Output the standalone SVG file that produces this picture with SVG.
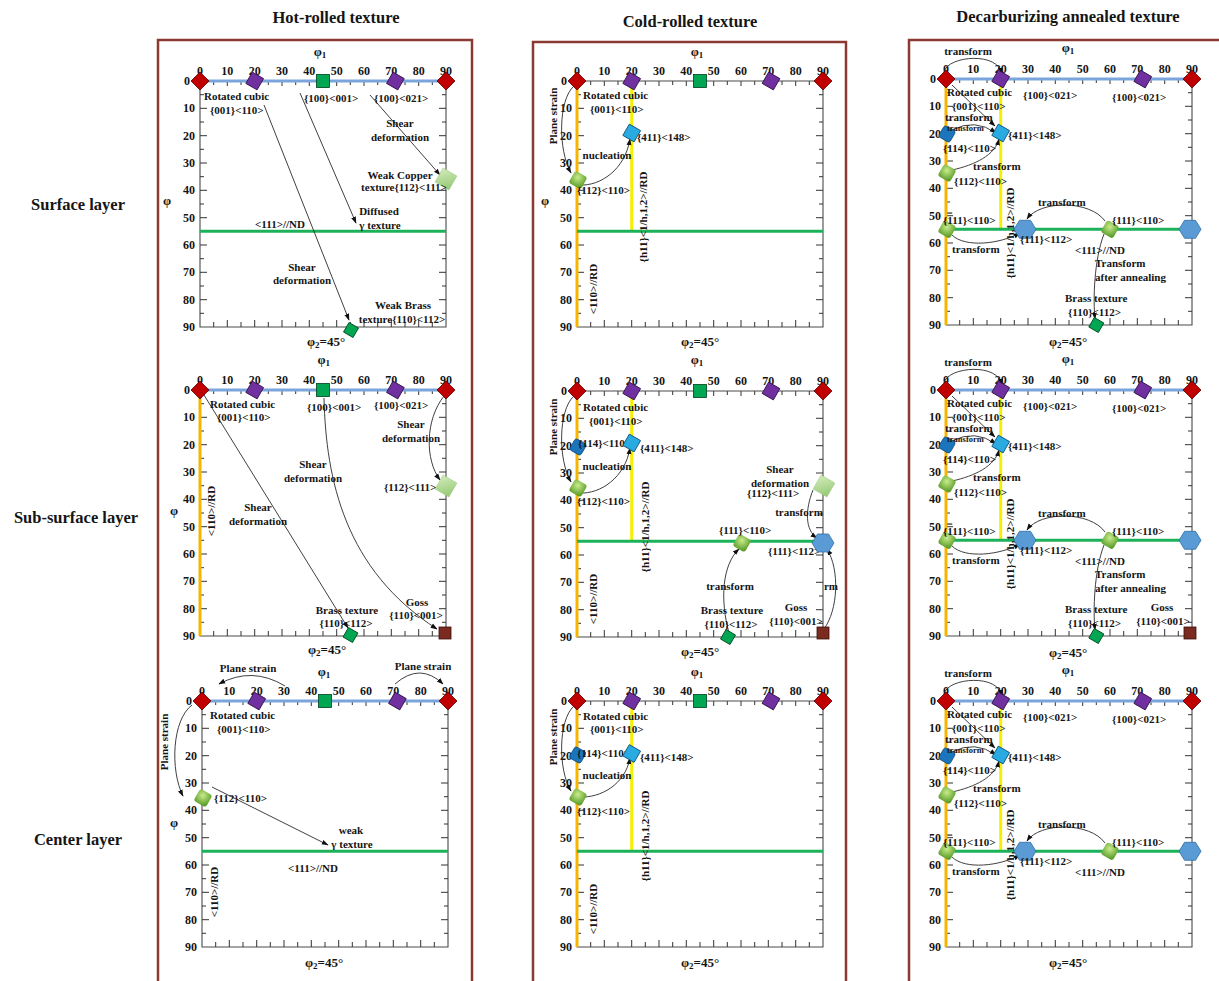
<svg xmlns="http://www.w3.org/2000/svg" xmlns:xlink="http://www.w3.org/1999/xlink" width="1219" height="981" viewBox="0 0 1219 981">
<style>
text{font-family:"Liberation Serif","Times New Roman",serif;font-weight:bold;fill:#151515;font-size:11px}
.h{font-size:16.5px}
.t text{font-size:12px}
.p text{font-size:13px}
.p tspan{font-size:9px}
.s{font-size:8.5px}
.tm{text-anchor:middle}
.te{text-anchor:end}
.ax{fill:none;stroke:#4a4a4a;stroke-width:1.1}
.tk{fill:none;stroke:#333;stroke-width:1}
.blue{stroke:#7aa5dc;stroke-width:3}
.org{stroke:#f7b500;stroke-width:3}
.yel{stroke:#f4f000;stroke-width:3}
.grn{stroke:#1db25a;stroke-width:3}
.c path{fill:none;stroke:#2a2a2a;stroke-width:.9;marker-end:url(#ah)}
.bd{fill:none;stroke:#8a3a32;stroke-width:2.5}
.ol{text-decoration:overline}
</style>
<defs>
<marker id="ah" viewBox="0 0 10 10" refX="9" refY="5" markerUnits="userSpaceOnUse" markerWidth="7" markerHeight="7" orient="auto"><path d="M0 1.5L10 5 0 8.5Z" fill="#111"/></marker>
<radialGradient id="gG" cx="40%" cy="35%" r="70%"><stop offset="0" stop-color="#c8ec8c"/><stop offset="1" stop-color="#5e9e2c"/></radialGradient>
<linearGradient id="gCu" x1="0" y1="0" x2="1" y2="1"><stop offset="0" stop-color="#d2ebba"/><stop offset="1" stop-color="#94c873"/></linearGradient>
<g id="frame">
<path class="ax" d="M0 0V246H246V0"/>
<path class="tk" d="M0 13.7h4M0 27.3h7M0 41h4M0 54.7h7M0 68.3h4M0 82h7M0 95.7h4M0 109.3h7M0 123h4M0 136.7h7M0 150.3h4M0 164h7M0 177.7h4M0 191.3h7M0 205h4M0 218.7h7M0 232.3h4M246 13.7h-4M246 27.3h-7M246 41h-4M246 54.7h-7M246 68.3h-4M246 82h-7M246 95.7h-4M246 109.3h-7M246 123h-4M246 136.7h-7M246 150.3h-4M246 164h-7M246 177.7h-4M246 191.3h-7M246 205h-4M246 218.7h-7M246 232.3h-4M13.7 246v-5M27.3 246v-7M41 246v-5M54.7 246v-7M68.3 246v-5M82 246v-7M95.7 246v-5M109.3 246v-7M123 246v-5M136.7 246v-7M150.3 246v-5M164 246v-7M177.7 246v-5M191.3 246v-7M205 246v-5M218.7 246v-7M232.3 246v-5M13.7 0v4M27.3 0v5M41 0v4M54.7 0v5M68.3 0v4M82 0v5M95.7 0v4M109.3 0v5M123 0v4M136.7 0v5M150.3 0v4M164 0v5M177.7 0v4M191.3 0v5M205 0v4M218.7 0v5M232.3 0v4"/>
</g>
<path id="mRed" d="M0-9L9 0 0 9-9 0Z" fill="#c00000" stroke="#5c0000" stroke-width=".8"/>
<rect id="mPur" x="-6.5" y="-6.5" width="13" height="13" transform="rotate(30)" fill="#7030a0" stroke="#2e0f45" stroke-width=".8"/>
<rect id="mGsq" x="-6.5" y="-6.5" width="13" height="13" fill="#00a651" stroke="#00401f" stroke-width=".8"/>
<rect id="mCu" x="-8" y="-8" width="16" height="16" transform="rotate(30)" fill="url(#gCu)" stroke="#9cc985" stroke-width=".5"/>
<rect id="mBrass" x="-5.5" y="-5.5" width="11" height="11" transform="rotate(30)" fill="#00a651" stroke="#00401f" stroke-width=".8"/>
<rect id="mGoss" x="-6" y="-6" width="12" height="12" fill="#7b2a1f" stroke="#3a0f08" stroke-width=".8"/>
<rect id="mG" x="-7" y="-7" width="14" height="14" rx="3" transform="rotate(30)" fill="url(#gG)"/>
<rect id="mB411" x="-6.5" y="-6.5" width="13" height="13" transform="rotate(30)" fill="#29abe2" stroke="#0b4f75" stroke-width=".8"/>
<rect id="mB114" x="-6.5" y="-6.5" width="13" height="13" rx="2.5" transform="rotate(30)" fill="#1b75bc" stroke="#0b3d66" stroke-width=".6"/>
<path id="mHex" d="M-11 0L-5.5-9H5.5L11 0 5.5 9H-5.5Z" fill="#5b9bd5" stroke="#2e6da4" stroke-width=".8"/>
</defs>
<rect width="1219" height="981" fill="#fff"/>
<g id="borders">
<rect class="bd" x="158" y="40" width="314" height="960"/>
<rect class="bd" x="533" y="42" width="313" height="960"/>
<rect class="bd" x="909" y="40" width="320" height="960"/>
</g>
<g id="headers" class="h tm">
<text class="h" x="336" y="22.5">Hot-rolled texture</text>
<text class="h" x="690" y="26.5">Cold-rolled texture</text>
<text class="h" x="1068" y="22">Decarburizing annealed texture</text>
<text class="h" x="78" y="209.5">Surface layer</text>
<text class="h" x="76" y="523">Sub-surface layer</text>
<text class="h" x="78" y="845">Center layer</text>
</g>

<!-- ===== axes ===== -->
<g id="axes-A1">
<use xlink:href="#frame" x="200" y="81"/>
<path class="blue" d="M200 81H446"/><path class="grn" d="M200 231.3H446"/>
<g class="t" transform="translate(200,81)"><g class="tm" transform="translate(0,-6)"><text>0</text><text x="27.3">10</text><text x="54.7">20</text><text x="82">30</text><text x="109.3">40</text><text x="136.7">50</text><text x="164">60</text><text x="191.3">70</text><text x="218.7">80</text><text x="246">90</text></g><g class="te" transform="translate(-5,4)"><text x="-5">0</text><text y="27.3">10</text><text y="54.7">20</text><text y="82">30</text><text y="109.3">40</text><text y="136.7">50</text><text y="164">60</text><text y="191.3">70</text><text y="218.7">80</text><text y="246">90</text></g></g>
<g class="tm p"><text x="320" y="55.5">φ<tspan dy="2">1</tspan></text><text x="167" y="205">φ</text><text x="326" y="346">φ<tspan dy="2">2</tspan><tspan dy="-2" style="font-size:13px">=45°</tspan></text></g>
</g>
<g id="axes-A2">
<use xlink:href="#frame" x="200" y="390"/>
<path class="blue" d="M200 390H446"/><path class="org" d="M200 390V636"/>
<g class="t" transform="translate(200,390)"><g class="tm" transform="translate(0,-6)"><text>0</text><text x="27.3">10</text><text x="54.7">20</text><text x="82">30</text><text x="109.3">40</text><text x="136.7">50</text><text x="164">60</text><text x="191.3">70</text><text x="218.7">80</text><text x="246">90</text></g><g class="te" transform="translate(-5,4)"><text x="-5">0</text><text y="27.3">10</text><text y="54.7">20</text><text y="82">30</text><text y="109.3">40</text><text y="136.7">50</text><text y="164">60</text><text y="191.3">70</text><text y="218.7">80</text><text y="246">90</text></g></g>
<g class="tm p"><text x="323.7" y="364">φ<tspan dy="2">1</tspan></text><text x="174" y="514.5">φ</text><text x="327" y="654">φ<tspan dy="2">2</tspan><tspan dy="-2" style="font-size:13px">=45°</tspan></text></g>
</g>
<g id="axes-A3">
<use xlink:href="#frame" x="202" y="701"/>
<path class="blue" d="M202 701H448"/><path class="grn" d="M202 851.3H448"/>
<g class="t" transform="translate(202,701)"><g class="tm" transform="translate(0,-6)"><text>0</text><text x="27.3">10</text><text x="54.7">20</text><text x="82">30</text><text x="109.3">40</text><text x="136.7">50</text><text x="164">60</text><text x="191.3">70</text><text x="218.7">80</text><text x="246">90</text></g><g class="te" transform="translate(-5,4)"><text x="-5">0</text><text y="27.3">10</text><text y="54.7">20</text><text y="82">30</text><text y="109.3">40</text><text y="136.7">50</text><text y="164">60</text><text y="191.3">70</text><text y="218.7">80</text><text y="246">90</text></g></g>
<g class="tm p"><text x="324" y="675.5">φ<tspan dy="2">1</tspan></text><text x="174" y="827">φ</text><text x="324" y="967">φ<tspan dy="2">2</tspan><tspan dy="-2" style="font-size:13px">=45°</tspan></text></g>
</g>
<g id="axes-B1">
<use xlink:href="#frame" x="577" y="81"/>
<path class="ax" d="M577 81H823"/><path class="org" d="M577 81V327"/><path class="yel" d="M631.7 81V231.3"/><path class="grn" d="M577 231.3H823"/>
<g class="t" transform="translate(577,81)"><g class="tm" transform="translate(0,-6)"><text>0</text><text x="27.3">10</text><text x="54.7">20</text><text x="82">30</text><text x="109.3">40</text><text x="136.7">50</text><text x="164">60</text><text x="191.3">70</text><text x="218.7">80</text><text x="246">90</text></g><g class="te" transform="translate(-5,4)"><text x="-5">0</text><text y="27.3">10</text><text y="54.7">20</text><text y="82">30</text><text y="109.3">40</text><text y="136.7">50</text><text y="164">60</text><text y="191.3">70</text><text y="218.7">80</text><text y="246">90</text></g></g>
<g class="tm p"><text x="697" y="55.5">φ<tspan dy="2">1</tspan></text><text x="545" y="205">φ</text><text x="700" y="346">φ<tspan dy="2">2</tspan><tspan dy="-2" style="font-size:13px">=45°</tspan></text></g>
</g>
<g id="axes-B2">
<use xlink:href="#frame" x="577" y="391"/>
<path class="ax" d="M577 391H823"/><path class="org" d="M577 391V637"/><path class="yel" d="M631.7 391V541.3"/><path class="grn" d="M577 541.3H823"/>
<g class="t" transform="translate(577,391)"><g class="tm" transform="translate(0,-6)"><text>0</text><text x="27.3">10</text><text x="54.7">20</text><text x="82">30</text><text x="109.3">40</text><text x="136.7">50</text><text x="164">60</text><text x="191.3">70</text><text x="218.7">80</text><text x="246">90</text></g><g class="te" transform="translate(-5,4)"><text x="-5">0</text><text y="27.3">10</text><text y="54.7">20</text><text y="82">30</text><text y="109.3">40</text><text y="136.7">50</text><text y="164">60</text><text y="191.3">70</text><text y="218.7">80</text><text y="246">90</text></g></g>
<g class="tm p"><text x="697" y="364">φ<tspan dy="2">1</tspan></text><text x="700" y="656">φ<tspan dy="2">2</tspan><tspan dy="-2" style="font-size:13px">=45°</tspan></text></g>
</g>
<g id="axes-B3">
<use xlink:href="#frame" x="577" y="701"/>
<path class="ax" d="M577 701H823"/><path class="org" d="M577 701V947"/><path class="yel" d="M631.7 701V851.3"/><path class="grn" d="M577 851.3H823"/>
<g class="t" transform="translate(577,701)"><g class="tm" transform="translate(0,-6)"><text>0</text><text x="27.3">10</text><text x="54.7">20</text><text x="82">30</text><text x="109.3">40</text><text x="136.7">50</text><text x="164">60</text><text x="191.3">70</text><text x="218.7">80</text><text x="246">90</text></g><g class="te" transform="translate(-5,4)"><text x="-5">0</text><text y="27.3">10</text><text y="54.7">20</text><text y="82">30</text><text y="109.3">40</text><text y="136.7">50</text><text y="164">60</text><text y="191.3">70</text><text y="218.7">80</text><text y="246">90</text></g></g>
<g class="tm p"><text x="697" y="675.5">φ<tspan dy="2">1</tspan></text><text x="700" y="967">φ<tspan dy="2">2</tspan><tspan dy="-2" style="font-size:13px">=45°</tspan></text></g>
</g>
<g id="axes-C1">
<use xlink:href="#frame" x="946" y="79"/>
<path class="blue" d="M946 79H1192"/><path class="org" d="M946 79V325"/><path class="yel" d="M1000.7 79V229.3"/><path class="grn" d="M946 229.3H1192"/>
<g class="t" transform="translate(946,79)"><g class="tm" transform="translate(0,-6)"><text>0</text><text x="27.3">10</text><text x="54.7">20</text><text x="82">30</text><text x="109.3">40</text><text x="136.7">50</text><text x="164">60</text><text x="191.3">70</text><text x="218.7">80</text><text x="246">90</text></g><g class="te" transform="translate(-5,4)"><text x="-5">0</text><text y="27.3">10</text><text y="54.7">20</text><text y="82">30</text><text y="109.3">40</text><text y="136.7">50</text><text y="164">60</text><text y="191.3">70</text><text y="218.7">80</text><text y="246">90</text></g></g>
<g class="tm p"><text x="1068" y="52">φ<tspan dy="2">1</tspan></text><text x="1068" y="346">φ<tspan dy="2">2</tspan><tspan dy="-2" style="font-size:13px">=45°</tspan></text></g>
</g>
<g id="axes-C2" transform="translate(0,311)">
<use xlink:href="#frame" x="946" y="79"/>
<path class="blue" d="M946 79H1192"/><path class="org" d="M946 79V325"/><path class="yel" d="M1000.7 79V229.3"/><path class="grn" d="M946 229.3H1192"/>
<g class="t" transform="translate(946,79)"><g class="tm" transform="translate(0,-6)"><text>0</text><text x="27.3">10</text><text x="54.7">20</text><text x="82">30</text><text x="109.3">40</text><text x="136.7">50</text><text x="164">60</text><text x="191.3">70</text><text x="218.7">80</text><text x="246">90</text></g><g class="te" transform="translate(-5,4)"><text x="-5">0</text><text y="27.3">10</text><text y="54.7">20</text><text y="82">30</text><text y="109.3">40</text><text y="136.7">50</text><text y="164">60</text><text y="191.3">70</text><text y="218.7">80</text><text y="246">90</text></g></g>
<g class="tm p"><text x="1068" y="52">φ<tspan dy="2">1</tspan></text><text x="1068" y="346">φ<tspan dy="2">2</tspan><tspan dy="-2" style="font-size:13px">=45°</tspan></text></g>
</g>
<g id="axes-C3" transform="translate(0,622)">
<use xlink:href="#frame" x="946" y="79"/>
<path class="blue" d="M946 79H1192"/><path class="org" d="M946 79V325"/><path class="yel" d="M1000.7 79V229.3"/><path class="grn" d="M946 229.3H1192"/>
<g class="t" transform="translate(946,79)"><g class="tm" transform="translate(0,-6)"><text>0</text><text x="27.3">10</text><text x="54.7">20</text><text x="82">30</text><text x="109.3">40</text><text x="136.7">50</text><text x="164">60</text><text x="191.3">70</text><text x="218.7">80</text><text x="246">90</text></g><g class="te" transform="translate(-5,4)"><text x="-5">0</text><text y="27.3">10</text><text y="54.7">20</text><text y="82">30</text><text y="109.3">40</text><text y="136.7">50</text><text y="164">60</text><text y="191.3">70</text><text y="218.7">80</text><text y="246">90</text></g></g>
<g class="tm p"><text x="1068" y="52">φ<tspan dy="2">1</tspan></text><text x="1068" y="345">φ<tspan dy="2">2</tspan><tspan dy="-2" style="font-size:13px">=45°</tspan></text></g>
</g>

<!-- ===== connectors ===== -->
<g id="connectors" class="c">
<path d="M264 105L349 320"/>
<path d="M300 93L356 223"/>
<path d="M370 95L440 175"/>
<path d="M204 395L348 628"/>
<path d="M324 398C326 480 345 570 437 629"/>
<path d="M444 396C425 420 425 460 440 480"/>
<path d="M285 686Q252 666 219 684"/>
<path d="M395 684Q420 662 443 684"/>
<path d="M192 705C172 720 170 770 183 796"/>
<path d="M212 787L328 845"/>
<path d="M574 86C558 100 558 150 571 173"/>
<path d="M580 185C600 186 625 170 630 139"/>
<path d="M574 396C558 410 558 460 571 482"/>
<path d="M580 493C600 494 625 478 630 448"/>
<path d="M813 490C805 510 805 530 817 538"/>
<path d="M729 633C720 600 722 565 739 549"/>
<path d="M824 629C838 610 840 570 827 549"/>
<path d="M574 706C558 720 558 770 571 791"/>
<path d="M580 797C600 798 625 785 630 758"/>
<g id="conn-C1">
<path d="M944 72C948 55 1000 52 1001 74"/>
<path d="M952 85L995 126"/>
<path d="M952 130Q975 118 996 133"/>
<path d="M952 170C975 165 995 155 999 139"/>
<path d="M1105 221C1090 200 1040 200 1027 219"/>
<path d="M952 235C965 248 1000 244 1020 233"/>
<path d="M1104 234C1094 260 1093 300 1095 319"/>
</g>
<g id="conn-C2" transform="translate(0,311)">
<path d="M944 72C948 55 1000 52 1001 74"/>
<path d="M952 85L995 126"/>
<path d="M952 130Q975 118 996 133"/>
<path d="M952 170C975 165 995 155 999 139"/>
<path d="M1105 221C1090 200 1040 200 1027 219"/>
<path d="M952 235C965 248 1000 244 1020 233"/>
<path d="M1104 234C1094 260 1093 300 1095 319"/>
</g>
<g id="conn-C3" transform="translate(0,622)">
<path d="M944 72C948 55 1000 52 1001 74"/>
<path d="M952 85L995 126"/>
<path d="M952 130Q975 118 996 133"/>
<path d="M952 170C975 165 995 155 999 139"/>
<path d="M1105 221C1090 200 1040 200 1027 219"/>
<path d="M952 235C965 248 1000 244 1020 233"/>
</g>
</g>

<!-- ===== nodes A1 ===== -->
<g id="A1">
<g id="A1-cube0"><use xlink:href="#mRed" x="200" y="81"/></g>
<g id="A1-cube90"><use xlink:href="#mRed" x="446" y="81"/></g>
<g id="A1-rc"><use xlink:href="#mPur" x="254.7" y="81"/><text x="204" y="99.5">Rotated cubic</text><text x="210" y="113.5">{001}&lt;110&gt;</text></g>
<g id="A1-100-001"><use xlink:href="#mGsq" x="323" y="81"/><text x="304" y="101.5">{100}&lt;001&gt;</text></g>
<g id="A1-100-021"><use xlink:href="#mPur" x="395.4" y="81"/><text x="374" y="101.5">{100}&lt;021&gt;</text></g>
<g id="A1-cu" class="tm"><use xlink:href="#mCu" x="446" y="179"/><text x="400" y="178.5">Weak Copper</text><text x="404" y="191">texture{112}&lt;111&gt;</text></g>
<g id="A1-brass" class="tm"><use xlink:href="#mBrass" x="351" y="330"/><text x="403" y="308.5">Weak Brass</text><text x="402" y="323">texture{110}&lt;112&gt;</text></g>
<g id="A1-labels" class="tm">
<text x="400" y="127">Shear</text><text x="400" y="141">deformation</text>
<text x="379" y="215">Diffused</text><text x="380" y="229">γ texture</text>
<text x="280" y="227.5">&lt;111&gt;//ND</text>
<text x="302" y="270.5">Shear</text><text x="302" y="284">deformation</text>
</g>
</g>

<!-- ===== nodes A2 ===== -->
<g id="A2">
<g id="A2-cube0"><use xlink:href="#mRed" x="200" y="390"/></g>
<g id="A2-cube90"><use xlink:href="#mRed" x="446" y="390"/></g>
<g id="A2-rc"><use xlink:href="#mPur" x="254.7" y="390"/><text x="210" y="408">Rotated cubic</text><text x="217" y="421">{001}&lt;110&gt;</text></g>
<g id="A2-100-001"><use xlink:href="#mGsq" x="323" y="390"/><text x="307" y="411">{100}&lt;001&gt;</text></g>
<g id="A2-100-021"><use xlink:href="#mPur" x="395.4" y="390"/><text x="374" y="409">{100}&lt;021&gt;</text></g>
<g id="A2-cu"><use xlink:href="#mCu" x="446" y="486"/><text x="384" y="490.5">{112}&lt;111&gt;</text></g>
<g id="A2-brass" class="tm"><use xlink:href="#mBrass" x="350.5" y="635"/><text x="347" y="614">Brass texture</text><text x="346" y="627">{110}&lt;112&gt;</text></g>
<g id="A2-goss" class="tm"><use xlink:href="#mGoss" x="445" y="633"/><text x="417" y="605.5">Goss</text><text x="416" y="619">{110}&lt;001&gt;</text></g>
<g id="A2-labels" class="tm">
<text x="411" y="428">Shear</text><text x="411" y="441.5">deformation</text>
<text x="313" y="468">Shear</text><text x="313" y="481.5">deformation</text>
<text x="258" y="510.5">Shear</text><text x="258" y="524.5">deformation</text>
<text transform="translate(215,511) rotate(-90)">&lt;110&gt;//RD</text>
</g>
</g>

<!-- ===== nodes A3 ===== -->
<g id="A3">
<g id="A3-cube0"><use xlink:href="#mRed" x="202" y="701"/></g>
<g id="A3-cube90"><use xlink:href="#mRed" x="448" y="701"/></g>
<g id="A3-rc"><use xlink:href="#mPur" x="256.7" y="701"/><text x="210" y="719">Rotated cubic</text><text x="217" y="733">{001}&lt;110&gt;</text></g>
<g id="A3-gsq"><use xlink:href="#mGsq" x="325" y="701"/></g>
<g id="A3-pur70"><use xlink:href="#mPur" x="397.4" y="701"/></g>
<g id="A3-112"><use xlink:href="#mG" x="203" y="798"/><text x="214" y="802">{112}&lt;110&gt;</text></g>
<g id="A3-labels" class="tm">
<text x="248" y="672">Plane strain</text>
<text x="423" y="670">Plane strain</text>
<text transform="translate(168,742) rotate(-90)">Plane strain</text>
<text x="351" y="834">weak</text><text x="352" y="848">γ texture</text>
<text x="313" y="872">&lt;111&gt;//ND</text>
<text transform="translate(218,892) rotate(-90)">&lt;110&gt;//RD</text>
</g>
</g>

<!-- ===== nodes B1 ===== -->
<g id="B1">
<g id="B1-cube0"><use xlink:href="#mRed" x="577" y="81"/></g>
<g id="B1-cube90"><use xlink:href="#mRed" x="823" y="81"/></g>
<g id="B1-rc"><use xlink:href="#mPur" x="631.7" y="81"/><text x="583" y="99.3">Rotated cubic</text><text x="590" y="113">{001}&lt;110&gt;</text></g>
<g id="B1-gsq"><use xlink:href="#mGsq" x="700" y="81"/></g>
<g id="B1-pur70"><use xlink:href="#mPur" x="771" y="81"/></g>
<g id="B1-411"><use xlink:href="#mB411" x="631.7" y="133"/><text x="637" y="141">{411}&lt;148&gt;</text></g>
<g id="B1-112"><use xlink:href="#mG" x="578" y="180"/><text x="577" y="194.3">{112}&lt;110&gt;</text></g>
<g id="B1-labels" class="tm">
<text x="607" y="159">nucleation</text>
<text transform="translate(557,116) rotate(-90)">Plane strain</text>
<text transform="translate(647,217) rotate(-90)">{h11}&lt;1/h,1,2&gt;//RD</text>
<text transform="translate(597,289) rotate(-90)">&lt;110&gt;//RD</text>
</g>
</g>

<!-- ===== nodes B2 ===== -->
<g id="B2">
<g id="B2-cube0"><use xlink:href="#mRed" x="577" y="391"/></g>
<g id="B2-cube90"><use xlink:href="#mRed" x="823" y="391"/></g>
<g id="B2-rc"><use xlink:href="#mPur" x="631.7" y="391"/><text x="583" y="411">Rotated cubic</text><text x="589" y="425">{001}&lt;110&gt;</text></g>
<g id="B2-gsq"><use xlink:href="#mGsq" x="700" y="391"/></g>
<g id="B2-pur70"><use xlink:href="#mPur" x="771" y="391"/></g>
<g id="B2-114"><use xlink:href="#mB114" x="578" y="447"/><text x="578" y="446.5">{114}&lt;110&gt;</text></g>
<g id="B2-411"><use xlink:href="#mB411" x="631.7" y="443"/><text x="640" y="452">{411}&lt;148&gt;</text></g>
<g id="B2-112"><use xlink:href="#mG" x="578" y="488"/><text x="577" y="504.5">{112}&lt;110&gt;</text></g>
<g id="B2-cu"><use xlink:href="#mCu" x="824" y="486"/><text x="747" y="496.5">{112}&lt;111&gt;</text></g>
<g id="B2-111-110"><use xlink:href="#mG" x="742" y="543"/><text x="719" y="534">{111}&lt;110&gt;</text></g>
<g id="B2-111-112"><text x="768" y="554.5">{111}&lt;112&gt;</text><use xlink:href="#mHex" x="823" y="543"/></g>
<g id="B2-brass" class="tm"><use xlink:href="#mBrass" x="728" y="637"/><text x="732" y="614">Brass texture</text><text x="731" y="627.5">{110}&lt;112&gt;</text></g>
<g id="B2-goss" class="tm"><use xlink:href="#mGoss" x="823" y="633"/><text x="796" y="610.5">Goss</text><text x="796" y="625">{110}&lt;001&gt;</text></g>
<g id="B2-labels" class="tm">
<text x="607" y="469.5">nucleation</text>
<text x="780" y="473">Shear</text><text x="780" y="486.5">deformation</text>
<text x="799" y="516">transform</text>
<text x="730" y="590">transform</text>
<text x="831" y="590">rm</text>
<text transform="translate(557,427) rotate(-90)">Plane strain</text>
<text transform="translate(649,527) rotate(-90)">{h11}&lt;1/h,1,2&gt;//RD</text>
<text transform="translate(597,599) rotate(-90)">&lt;110&gt;//RD</text>
</g>
</g>

<!-- ===== nodes B3 ===== -->
<g id="B3">
<g id="B3-cube0"><use xlink:href="#mRed" x="577" y="701"/></g>
<g id="B3-cube90"><use xlink:href="#mRed" x="823" y="701"/></g>
<g id="B3-rc"><use xlink:href="#mPur" x="631.7" y="701"/><text x="583" y="719.5">Rotated cubic</text><text x="590" y="733">{001}&lt;110&gt;</text></g>
<g id="B3-gsq"><use xlink:href="#mGsq" x="700" y="701"/></g>
<g id="B3-pur70"><use xlink:href="#mPur" x="771" y="701"/></g>
<g id="B3-114"><use xlink:href="#mB114" x="577.7" y="755"/><text x="577" y="757">{114}&lt;110&gt;</text></g>
<g id="B3-411"><use xlink:href="#mB411" x="631.7" y="753.5"/><text x="640" y="760.5">{411}&lt;148&gt;</text></g>
<g id="B3-112"><use xlink:href="#mG" x="578" y="797"/><text x="577" y="814.5">{112}&lt;110&gt;</text></g>
<g id="B3-labels" class="tm">
<text x="607" y="779">nucleation</text>
<text transform="translate(557,737) rotate(-90)">Plane strain</text>
<text transform="translate(649,836) rotate(-90)">{h11}&lt;1/h,1,2&gt;//RD</text>
<text transform="translate(597,909) rotate(-90)">&lt;110&gt;//RD</text>
</g>
</g>

<!-- ===== nodes C1 ===== -->
<g id="C1">
<g id="C1-cube0"><use xlink:href="#mRed" x="946" y="79"/></g>
<g id="C1-cube90"><use xlink:href="#mRed" x="1192" y="79"/></g>
<g id="C1-rc"><use xlink:href="#mPur" x="1000.7" y="79"/><text x="947" y="96">Rotated cubic</text><text x="952" y="109.5">{001}&lt;110&gt;</text><text x="1023" y="98.5">{100}&lt;021&gt;</text></g>
<g id="C1-pur72"><use xlink:href="#mPur" x="1142.8" y="79"/><text x="1112" y="101">{100}&lt;021&gt;</text></g>
<g id="C1-114"><use xlink:href="#mB114" x="947" y="134"/><text x="943" y="152">{114}&lt;110&gt;</text></g>
<g id="C1-411"><use xlink:href="#mB411" x="1000.7" y="133"/><text x="1008" y="138.5">{411}&lt;148&gt;</text></g>
<g id="C1-112"><use xlink:href="#mG" x="947" y="173"/><text x="954" y="184.5">{112}&lt;110&gt;</text></g>
<g id="C1-111L"><use xlink:href="#mG" x="947" y="229.3"/><text x="943" y="223.5">{<tspan class="ol">1</tspan>11}&lt;110&gt;</text></g>
<g id="C1-hex1"><use xlink:href="#mHex" x="1025" y="229.3"/><text x="1020" y="242.5">{111}&lt;112&gt;</text></g>
<g id="C1-111R"><use xlink:href="#mG" x="1110" y="229.3"/><text x="1112" y="223.5">{111}&lt;110&gt;</text></g>
<g id="C1-hex2"><use xlink:href="#mHex" x="1190" y="229.3"/></g>
<g id="C1-brass"><use xlink:href="#mBrass" x="1096.3" y="325"/><text x="1065" y="302">Brass texture</text><text x="1068" y="316">{110}&lt;112&gt;</text></g>
<g id="C1-labels">
<text class="tm" x="968" y="55">transform</text>
<text x="945" y="121">transform</text>
<text class="s" x="947" y="131">transform</text>
<text x="973" y="170">transform</text>
<text x="1038" y="206">transform</text>
<text x="952" y="252.5">transform</text>
<text x="1075" y="253.5">&lt;111&gt;//ND</text>
<text x="1095" y="267">Transform</text>
<text x="1095" y="281">after annealing</text>
<text class="tm" transform="translate(1014,233) rotate(-90)">{h11}&lt;1/h,1,2&gt;//RD</text>
</g>
</g>

<!-- ===== nodes C2 ===== -->
<g id="C2" transform="translate(0,311)">
<g id="C2-cube0"><use xlink:href="#mRed" x="946" y="79"/></g>
<g id="C2-cube90"><use xlink:href="#mRed" x="1192" y="79"/></g>
<g id="C2-rc"><use xlink:href="#mPur" x="1000.7" y="79"/><text x="947" y="96">Rotated cubic</text><text x="952" y="109.5">{001}&lt;110&gt;</text><text x="1023" y="98.5">{100}&lt;021&gt;</text></g>
<g id="C2-pur72"><use xlink:href="#mPur" x="1142.8" y="79"/><text x="1112" y="101">{100}&lt;021&gt;</text></g>
<g id="C2-114"><use xlink:href="#mB114" x="947" y="134"/><text x="943" y="152">{114}&lt;110&gt;</text></g>
<g id="C2-411"><use xlink:href="#mB411" x="1000.7" y="133"/><text x="1008" y="138.5">{411}&lt;148&gt;</text></g>
<g id="C2-112"><use xlink:href="#mG" x="947" y="173"/><text x="954" y="184.5">{112}&lt;110&gt;</text></g>
<g id="C2-111L"><use xlink:href="#mG" x="947" y="229.3"/><text x="943" y="223.5">{<tspan class="ol">1</tspan>11}&lt;110&gt;</text></g>
<g id="C2-hex1"><use xlink:href="#mHex" x="1025" y="229.3"/><text x="1020" y="242.5">{111}&lt;112&gt;</text></g>
<g id="C2-111R"><use xlink:href="#mG" x="1110" y="229.3"/><text x="1112" y="223.5">{111}&lt;110&gt;</text></g>
<g id="C2-hex2"><use xlink:href="#mHex" x="1190" y="229.3"/></g>
<g id="C2-brass"><use xlink:href="#mBrass" x="1096.3" y="325"/><text x="1065" y="302">Brass texture</text><text x="1068" y="316">{110}&lt;112&gt;</text></g>
<g id="C2-goss" class="tm"><use xlink:href="#mGoss" x="1190" y="322"/><text x="1162" y="300">Goss</text><text x="1163" y="314">{110}&lt;001&gt;</text></g>
<g id="C2-labels">
<text class="tm" x="968" y="55">transform</text>
<text x="945" y="121">transform</text>
<text class="s" x="947" y="131">transform</text>
<text x="973" y="170">transform</text>
<text x="1038" y="206">transform</text>
<text x="952" y="252.5">transform</text>
<text x="1075" y="253.5">&lt;111&gt;//ND</text>
<text x="1095" y="267">Transform</text>
<text x="1095" y="281">after annealing</text>
<text class="tm" transform="translate(1014,233) rotate(-90)">{h11}&lt;1/h,1,2&gt;//RD</text>
</g>
</g>

<!-- ===== nodes C3 ===== -->
<g id="C3" transform="translate(0,622)">
<g id="C3-cube0"><use xlink:href="#mRed" x="946" y="79"/></g>
<g id="C3-cube90"><use xlink:href="#mRed" x="1192" y="79"/></g>
<g id="C3-rc"><use xlink:href="#mPur" x="1000.7" y="79"/><text x="947" y="96">Rotated cubic</text><text x="952" y="109.5">{001}&lt;110&gt;</text><text x="1023" y="98.5">{100}&lt;021&gt;</text></g>
<g id="C3-pur72"><use xlink:href="#mPur" x="1142.8" y="79"/><text x="1112" y="101">{100}&lt;021&gt;</text></g>
<g id="C3-114"><use xlink:href="#mB114" x="947" y="134"/><text x="943" y="152">{114}&lt;110&gt;</text></g>
<g id="C3-411"><use xlink:href="#mB411" x="1000.7" y="133"/><text x="1008" y="138.5">{411}&lt;148&gt;</text></g>
<g id="C3-112"><use xlink:href="#mG" x="947" y="173"/><text x="954" y="184.5">{112}&lt;110&gt;</text></g>
<g id="C3-111L"><use xlink:href="#mG" x="947" y="229.3"/><text x="943" y="223.5">{<tspan class="ol">1</tspan>11}&lt;110&gt;</text></g>
<g id="C3-hex1"><use xlink:href="#mHex" x="1025" y="229.3"/><text x="1020" y="242.5">{111}&lt;112&gt;</text></g>
<g id="C3-111R"><use xlink:href="#mG" x="1110" y="229.3"/><text x="1112" y="223.5">{111}&lt;110&gt;</text></g>
<g id="C3-hex2"><use xlink:href="#mHex" x="1190" y="229.3"/></g>
<g id="C3-labels">
<text class="tm" x="968" y="55">transform</text>
<text x="945" y="121">transform</text>
<text class="s" x="947" y="131">transform</text>
<text x="973" y="170">transform</text>
<text x="1038" y="206">transform</text>
<text x="952" y="252.5">transform</text>
<text x="1075" y="253.5">&lt;111&gt;//ND</text>
<text class="tm" transform="translate(1014,233) rotate(-90)">{h11}&lt;1/h,1,2&gt;//RD</text>
</g>
</g>
</svg>
